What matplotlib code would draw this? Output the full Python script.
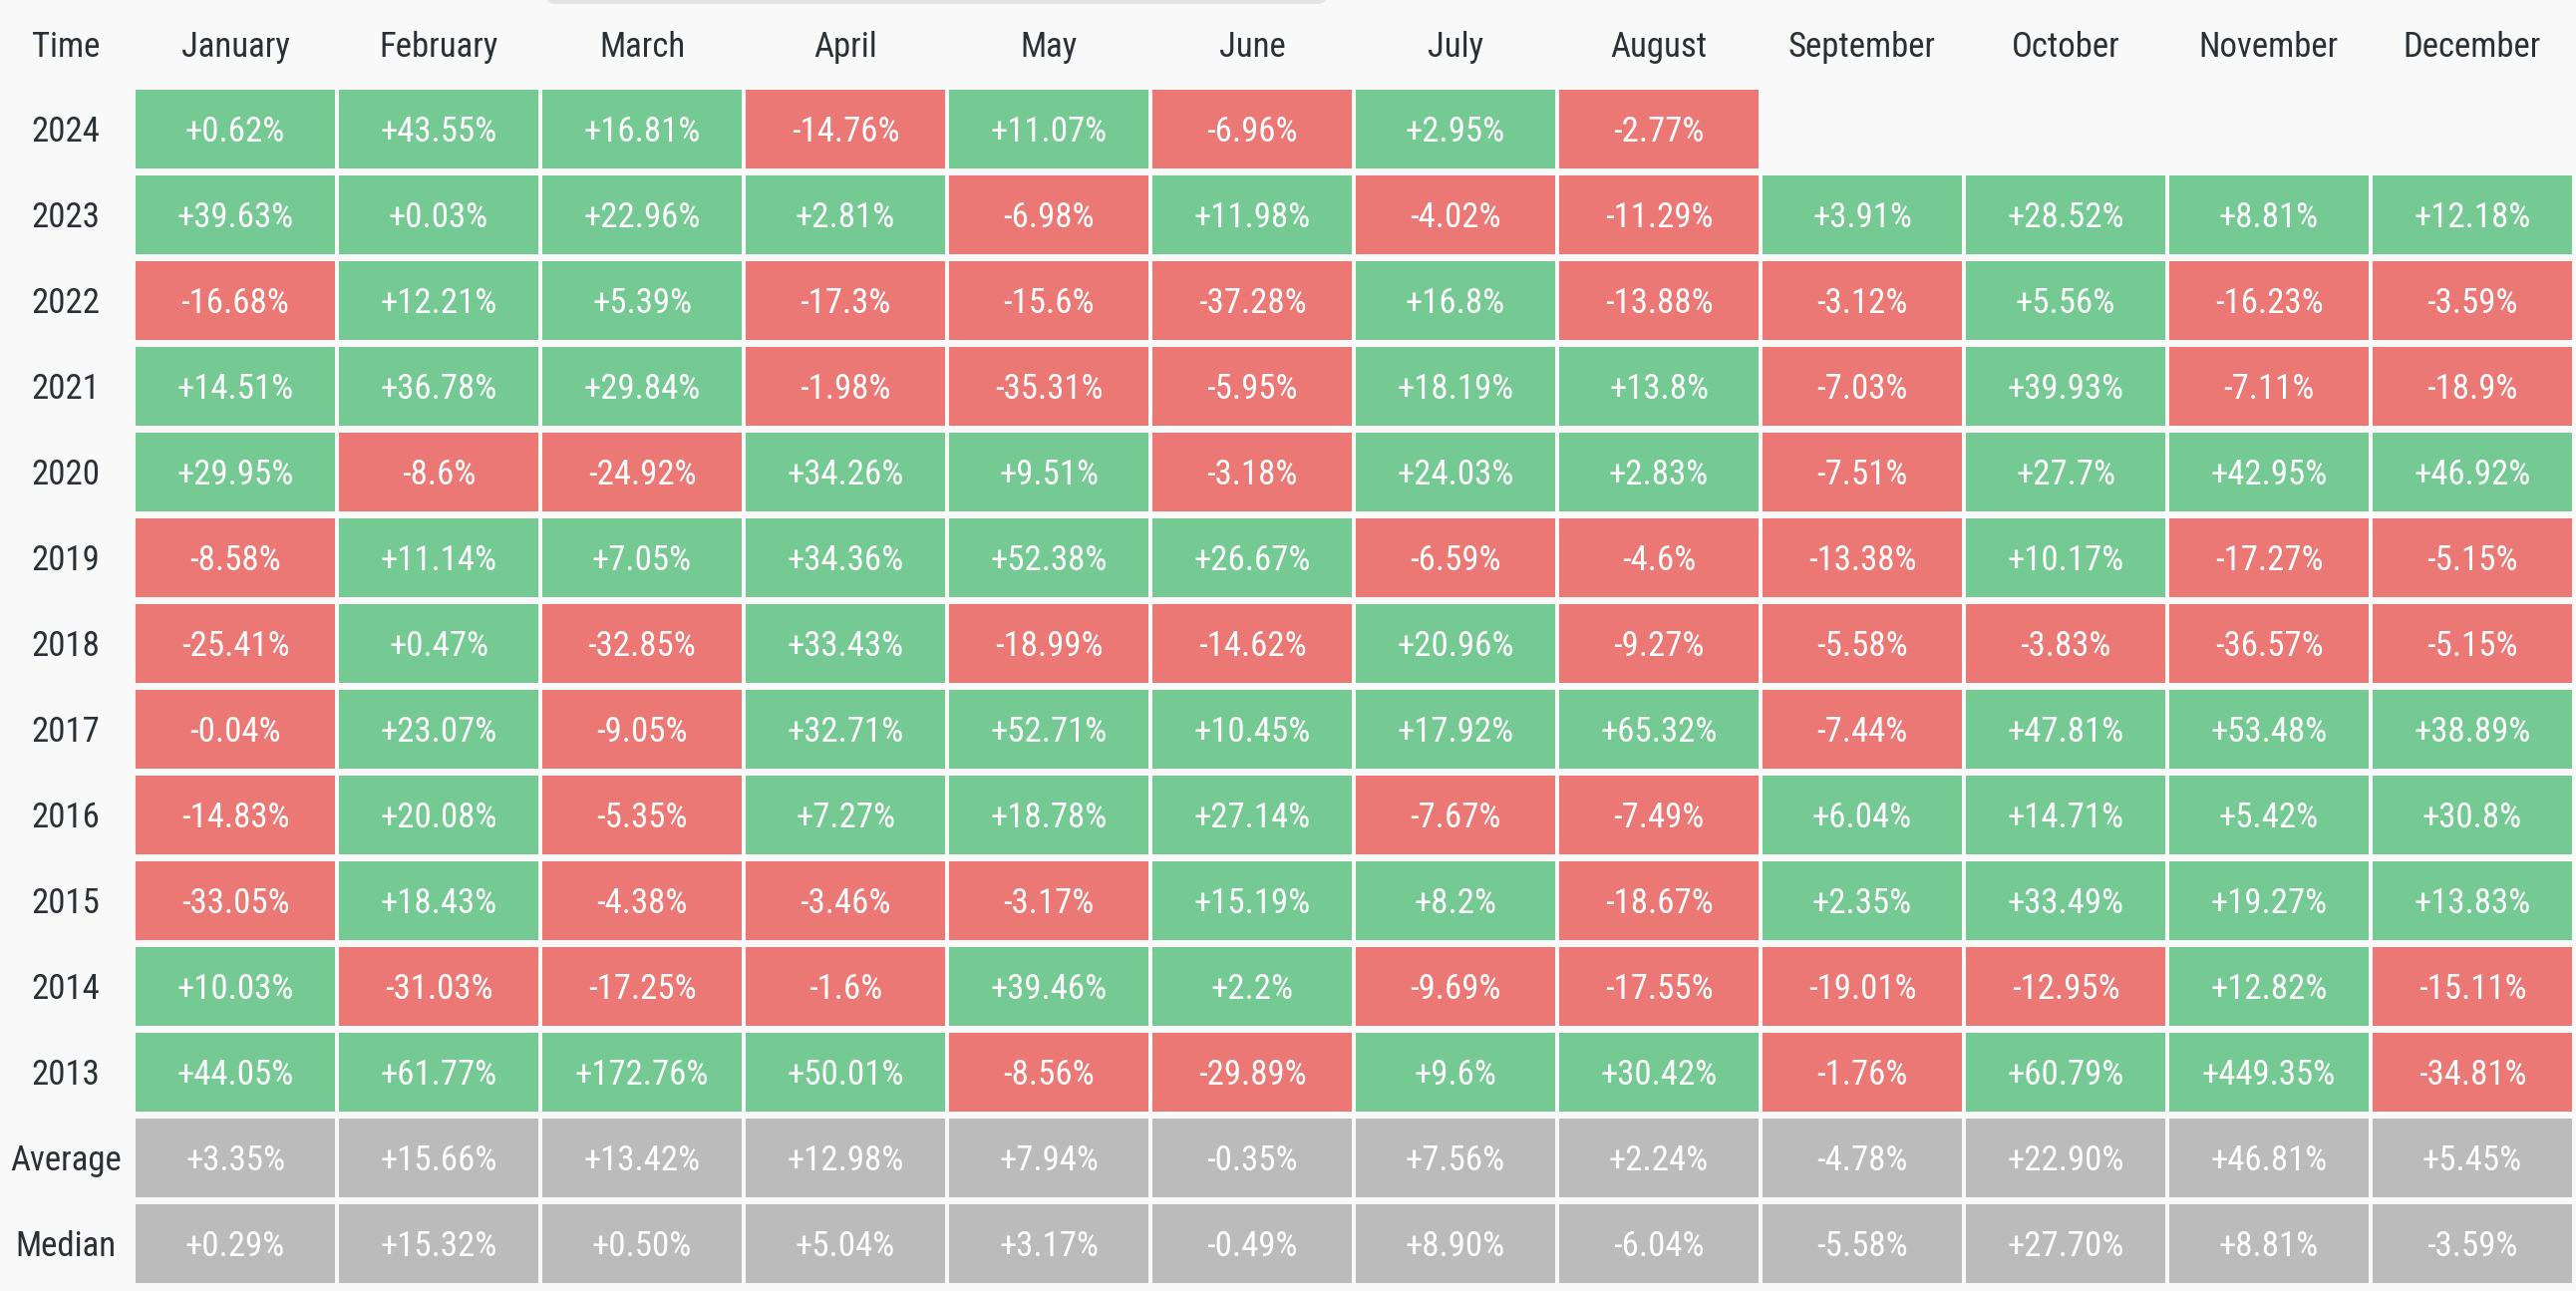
import matplotlib
matplotlib.use("Agg")
import matplotlib.pyplot as plt
from matplotlib.patches import Rectangle, FancyBboxPatch
from matplotlib import font_manager
from matplotlib.transforms import offset_copy

# ---------------- data ----------------
months = ["January", "February", "March", "April", "May", "June", "July",
          "August", "September", "October", "November", "December"]
row_labels = ["2024", "2023", "2022", "2021", "2020", "2019", "2018", "2017",
              "2016", "2015", "2014", "2013"]

r2024 = [0.62, 43.55, 16.81, -14.76, 11.07, -6.96, 2.95, -2.77, None, None, None, None]
r2023 = [39.63, 0.03, 22.96, 2.81, -6.98, 11.98, -4.02, -11.29, 3.91, 28.52, 8.81, 12.18]
r2022 = [-16.68, 12.21, 5.39, -17.3, -15.6, -37.28, 16.8, -13.88, -3.12, 5.56, -16.23, -3.59]
r2021 = [14.51, 36.78, 29.84, -1.98, -35.31, -5.95, 18.19, 13.8, -7.03, 39.93, -7.11, -18.9]
r2020 = [29.95, -8.6, -24.92, 34.26, 9.51, -3.18, 24.03, 2.83, -7.51, 27.7, 42.95, 46.92]
r2019 = [-8.58, 11.14, 7.05, 34.36, 52.38, 26.67, -6.59, -4.6, -13.38, 10.17, -17.27, -5.15]
r2018 = [-25.41, 0.47, -32.85, 33.43, -18.99, -14.62, 20.96, -9.27, -5.58, -3.83, -36.57, -5.15]
r2017 = [-0.04, 23.07, -9.05, 32.71, 52.71, 10.45, 17.92, 65.32, -7.44, 47.81, 53.48, 38.89]
r2016 = [-14.83, 20.08, -5.35, 7.27, 18.78, 27.14, -7.67, -7.49, 6.04, 14.71, 5.42, 30.8]
r2015 = [-33.05, 18.43, -4.38, -3.46, -3.17, 15.19, 8.2, -18.67, 2.35, 33.49, 19.27, 13.83]
r2014 = [10.03, -31.03, -17.25, -1.6, 39.46, 2.2, -9.69, -17.55, -19.01, -12.95, 12.82, -15.11]
r2013 = [44.05, 61.77, 172.76, 50.01, -8.56, -29.89, 9.6, 30.42, -1.76, 60.79, 449.35, -34.81]
average = [3.35, 15.66, 13.42, 12.98, 7.94, -0.35, 7.56, 2.24, -4.78, 22.90, 46.81, 5.45]
median = [0.29, 15.32, 0.50, 5.04, 3.17, -0.49, 8.90, -6.04, -5.58, 27.70, 8.81, -3.59]

year_rows = [r2024, r2023, r2022, r2021, r2020, r2019, r2018, r2017,
             r2016, r2015, r2014, r2013]
stat_labels = ["Average", "Median"]
stat_rows = [average, median]

# ---------------- style ----------------
GREEN = "#75c993"
RED = "#eb7875"
GRAY = "#bbbbbb"
BG = "#f9f9f9"
DARK = "#2b2f36"

avail = {f.name for f in font_manager.fontManager.ttflist}
family = "DejaVu Sans"
for cand in ["Liberation Sans Narrow", "Roboto Condensed", "Roboto", "Noto Sans"]:
    if cand in avail:
        family = cand
        break
plt.rcParams["font.family"] = [family, "DejaVu Sans"]

W, H = 2584, 1295
fig = plt.figure(figsize=(W / 100, H / 100), dpi=100, facecolor=BG)

# thin rounded bar at the very top (UI element edge)
bar_ax = fig.add_axes([0, 0, 1, 1])
bar_ax.set_xlim(0, W)
bar_ax.set_ylim(H, 0)
bar_ax.axis("off")
bar_ax.add_patch(FancyBboxPatch((548, -20), 782, 24,
                                boxstyle="round,pad=0,rounding_size=8",
                                facecolor="#e4e4e4", edgecolor="none"))

# grid axes: columns 0..12, rows 0..14
left_px, right_px = 136, 2584
top_px, bot_px = 90, 1294
ax = fig.add_axes([left_px / W, 1 - bot_px / H, (right_px - left_px) / W,
                   (bot_px - top_px) / H])
ax.set_xlim(0, 12)
ax.set_ylim(14, 0)
ax.axis("off")

cw = 200 / 204
ch = 79 / 86
FS = 25
# baseline placed half a cap height below the vertical centre (in points)
tr = offset_copy(ax.transData, fig=fig, x=0, y=-FS * 0.711 / 2, units="points")


def fmt_year(v):
    s = f"{v:+.2f}".rstrip("0").rstrip(".")
    return s + "%"


def fmt_stat(v):
    return f"{v:+.2f}%"


def put(x, y, s, color):
    ax.text(x, y, s, ha="center", va="baseline", fontsize=FS, color=color,
            transform=tr, clip_on=False)


for j, (lab, vals) in enumerate(zip(row_labels, year_rows)):
    put(-0.343, j + ch / 2, lab, DARK)
    for i, v in enumerate(vals):
        if v is None:
            continue
        ax.add_patch(Rectangle((i, j), cw, ch,
                               facecolor=GREEN if v >= 0 else RED,
                               edgecolor="none"))
        put(i + cw / 2, j + ch / 2, fmt_year(v), "white")

for k, (lab, vals) in enumerate(zip(stat_labels, stat_rows)):
    j = len(year_rows) + k
    put(-0.343, j + ch / 2, lab, DARK)
    for i, v in enumerate(vals):
        ax.add_patch(Rectangle((i, j), cw, ch, facecolor=GRAY, edgecolor="none"))
        put(i + cw / 2, j + ch / 2, fmt_stat(v), "white")

# header
hy = (45 - top_px) / 86
put(-0.343, hy, "Time", DARK)
for i, m in enumerate(months):
    put(i + cw / 2, hy, m, DARK)

fig.savefig("out.png", dpi=100, facecolor=BG)
